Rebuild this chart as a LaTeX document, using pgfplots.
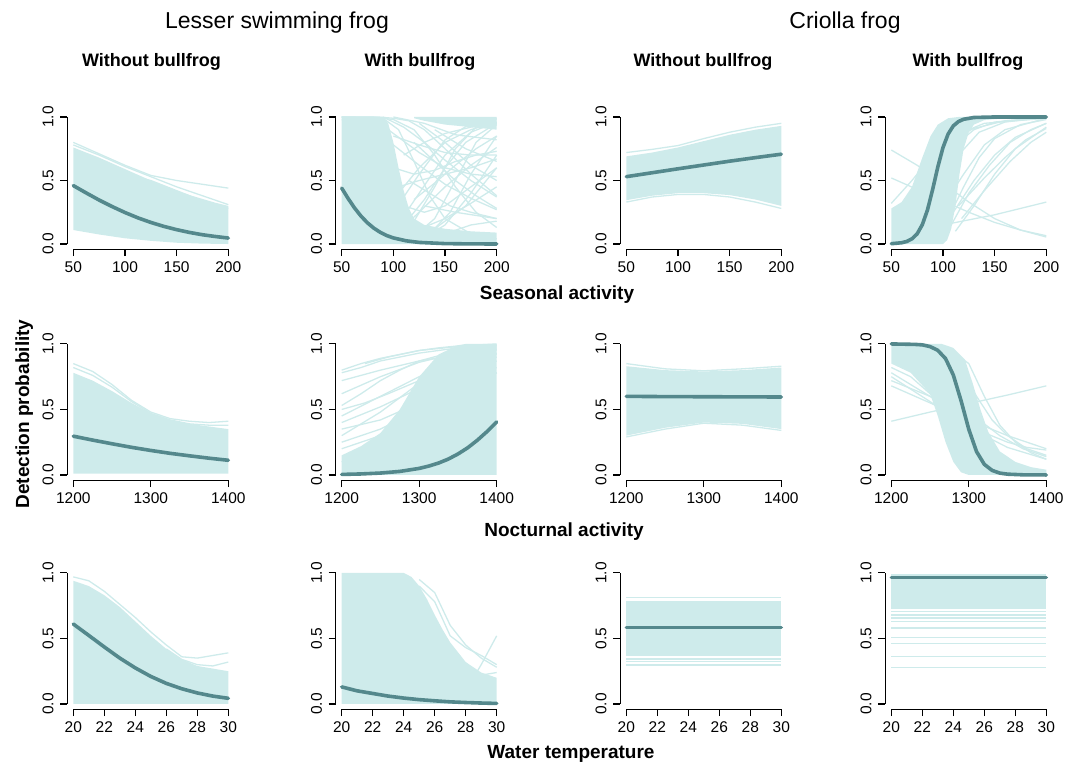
\documentclass[border=0pt]{standalone}
\usepackage{fontspec}
\setmainfont{Liberation Sans}
\usepackage{pgfplots}
\pgfplotsset{compat=1.18}
\definecolor{lite}{RGB}{206,235,235}
\definecolor{mcol}{RGB}{84,136,140}

\pgfplotsset{
  panel/.style={
    scale only axis, width=167.4pt, anchor=south west,
    ymin=-0.04, ymax=1.04, ytick={0,0.5,1}, yticklabels={0.0,0.5,1.0},
    axis x line*=bottom, axis y line*=left, axis line style={draw=none},
    tick align=outside, major tick length=7pt,
    tick style={black, line width=1.1pt},
    tick label style={font=\fontsize{15.5}{16}\selectfont},
    yticklabel style={rotate=90, anchor=south},
    yticklabel shift=3pt, xticklabel shift=2pt,
    clip=false,
  },
  r1/.style={height=137.2pt},
  r23/.style={height=141.5pt},
  sea/.style={xmin=44, xmax=206, xtick={50,100,150,200}, xticklabels={50,100,150,200}},
  noc/.style={xmin=1192, xmax=1408, xtick={1200,1300,1400}, xticklabels={1200,1300,1400}},
  wat/.style={xmin=19.6, xmax=30.4, xtick={20,22,24,26,28,30}, xticklabels={20,22,24,26,28,30}},
  env/.style={fill=lite, draw=none},
  ln/.style={lite, line width=1.3pt},
  mn/.style={mcol, line width=3.6pt, line cap=round},
}
\tikzset{axl/.style={black, line width=1.1pt}}
\newcommand{\axl}{%
  \draw[axl] (rel axis cs:0.037037,0) -- (rel axis cs:0.962963,0);
  \draw[axl] (rel axis cs:0,0.037037) -- (rel axis cs:0,0.962963);}

\begin{document}
\begin{tikzpicture}
\path[use as bounding box] (0,0) rectangle (1087pt,771pt);

% titles
\node[anchor=base, font=\fontsize{23}{23}\selectfont] at (277pt,742pt) {Lesser swimming frog};
\node[anchor=base, font=\fontsize{23}{23}\selectfont] at (845pt,742pt) {Criolla frog};
\foreach \xx/\tt in {151.5/Without bullfrog, 420/With bullfrog, 703/Without bullfrog, 968/With bullfrog}
  \node[anchor=base, font=\fontsize{18}{18}\selectfont\bfseries] at (\xx pt,704pt) {\tt};
\node[anchor=base, font=\fontsize{19}{19}\selectfont\bfseries] at (557pt,471pt) {Seasonal activity};
\node[anchor=base, font=\fontsize{19}{19}\selectfont\bfseries] at (564pt,234pt) {Nocturnal activity};
\node[anchor=base, font=\fontsize{19}{19}\selectfont\bfseries] at (571pt,12pt) {Water temperature};
\node[anchor=base, rotate=90, font=\fontsize{19}{19}\selectfont\bfseries] at (29pt,357pt) {Detection probability};

% ---------- row 1: seasonal activity ----------
\begin{axis}[panel, r1, sea, at={(67.1pt,521.9pt)}]
\addplot[env] coordinates {(50,0.76)(62.5,0.72)(75,0.68)(87.5,0.635)(100,0.59)(112.5,0.545)(125,0.50)(137.5,0.46)(150,0.42)(162.5,0.385)(175,0.355)(187.5,0.325)(200,0.30)
  (200,0.0)(175,0.003)(150,0.01)(125,0.025)(100,0.045)(75,0.075)(50,0.11)} -- cycle;
\addplot[ln] coordinates {(50,0.80)(75,0.71)(100,0.62)(125,0.54)(150,0.50)(175,0.47)(200,0.44)};
\addplot[ln] coordinates {(50,0.78)(75,0.70)(100,0.61)(125,0.53)(150,0.45)(175,0.38)(200,0.31)};
\addplot[ln] coordinates {(100,0.55)(125,0.50)(150,0.42)(175,0.34)(200,0.28)};
\addplot[mn] coordinates {(50,0.46)(62.5,0.402)(75,0.346)(87.5,0.295)(100,0.248)(112.5,0.206)(125,0.170)(137.5,0.139)(150,0.113)(162.5,0.091)(175,0.073)(187.5,0.059)(200,0.047)};
\axl
\end{axis}

\begin{axis}[panel, r1, sea, at={(335.5pt,521.9pt)}]
\addplot[env] coordinates {(50,1)(90,1)(95,0.95)(100,0.8)(105,0.6)(110,0.42)(115,0.28)(120,0.2)(130,0.15)(150,0.12)(175,0.1)(200,0.09)(200,0)(50,0)} -- cycle;
\addplot[env] coordinates {(120,1)(200,1)(200,0.9)(175,0.92)(150,0.94)(130,0.97)(120,0.99)} -- cycle;
\addplot[ln] coordinates {(50,1)(80,1)(100,0.98)(120,0.9)(140,0.7)(160,0.45)(180,0.25)(200,0.13)};
\addplot[ln] coordinates {(50,1)(90,0.99)(105,0.9)(120,0.65)(135,0.38)(150,0.2)(175,0.08)(200,0.04)};
\addplot[ln] coordinates {(50,0.98)(75,0.9)(100,0.78)(125,0.62)(150,0.47)(175,0.36)(200,0.27)};
\addplot[ln] coordinates {(90,1)(110,0.92)(130,0.8)(150,0.66)(175,0.5)(200,0.37)};
\addplot[ln] coordinates {(100,0.85)(125,0.78)(150,0.72)(175,0.7)(200,0.7)};
\addplot[ln] coordinates {(95,0.9)(125,0.72)(150,0.6)(175,0.55)(200,0.53)};
\addplot[ln] coordinates {(100,0.02)(120,0.06)(140,0.2)(160,0.5)(180,0.8)(200,0.94)};
\addplot[ln] coordinates {(100,0.05)(120,0.18)(140,0.45)(160,0.75)(180,0.92)(200,0.98)};
\addplot[ln] coordinates {(105,0.1)(125,0.25)(150,0.45)(175,0.62)(200,0.76)};
\addplot[ln] coordinates {(110,0.15)(130,0.35)(150,0.6)(170,0.8)(200,0.95)};
\addplot[ln] coordinates {(100,0.25)(125,0.55)(150,0.82)(175,0.95)(200,0.99)};
\addplot[ln] coordinates {(110,0.05)(140,0.12)(170,0.3)(200,0.6)};
\addplot[ln] coordinates {(120,0.1)(150,0.2)(175,0.32)(200,0.45)};
\addplot[ln] coordinates {(100,0.35)(125,0.6)(150,0.8)(175,0.9)(200,0.96)};
\addplot[ln] coordinates {(100,1)(130,0.95)(160,0.86)(200,0.82)};
\addplot[ln] coordinates {(120,0.05)(150,0.08)(175,0.15)(200,0.18)};
\addplot[ln] coordinates {(130,0.3)(160,0.25)(200,0.2)};
\addplot[ln] coordinates {(50,1)(85,1)(100,0.99)(115,0.97)(130,0.9)(150,0.75)(175,0.55)(200,0.38)};
\addplot[ln] coordinates {(100,0.6)(120,0.55)(140,0.58)(160,0.65)(180,0.7)(200,0.73)};
\addplot[ln] coordinates {(105,0.45)(125,0.5)(150,0.55)(175,0.6)(200,0.67)};
\addplot[ln] coordinates {(110,0.3)(130,0.25)(150,0.3)(175,0.45)(200,0.6)};
\addplot[ln] coordinates {(115,0.5)(135,0.4)(155,0.3)(175,0.25)(200,0.2)};
\addplot[ln] coordinates {(120,0.8)(140,0.65)(160,0.5)(180,0.38)(200,0.28)};
\addplot[ln] coordinates {(100,0.1)(125,0.4)(150,0.7)(175,0.88)(200,0.96)};
\addplot[ln] coordinates {(115,0.02)(135,0.08)(155,0.25)(175,0.55)(200,0.85)};
\addplot[ln] coordinates {(110,0.7)(130,0.8)(150,0.87)(175,0.92)(200,0.95)};
\addplot[ln] coordinates {(120,0.35)(140,0.48)(160,0.62)(180,0.75)(200,0.85)};
\addplot[ln] coordinates {(130,0.05)(150,0.15)(175,0.4)(200,0.7)};
\addplot[ln] coordinates {(125,0.95)(150,0.8)(175,0.62)(200,0.5)};
\addplot[ln] coordinates {(140,0.9)(170,0.75)(200,0.65)};
\addplot[mn] coordinates {(50,0.44)(56.25,0.358)(62.5,0.283)(68.75,0.219)(75,0.166)(81.25,0.124)(87.5,0.091)(93.75,0.066)(100,0.048)(112.5,0.025)(125,0.0125)(150,0.0032)(175,0.0008)(200,0.0002)};
\axl
\end{axis}

\begin{axis}[panel, r1, sea, at={(620.1pt,521.9pt)}]
\addplot[env] coordinates {(50,0.69)(75,0.72)(100,0.76)(125,0.81)(150,0.86)(175,0.90)(200,0.93)
  (200,0.30)(175,0.35)(150,0.385)(125,0.40)(100,0.40)(75,0.38)(50,0.345)} -- cycle;
\addplot[ln] coordinates {(50,0.72)(75,0.745)(100,0.775)(125,0.83)(150,0.88)(175,0.92)(200,0.95)};
\addplot[ln] coordinates {(50,0.33)(75,0.37)(100,0.39)(125,0.39)(150,0.37)(175,0.33)(200,0.28)};
\addplot[mn] coordinates {(50,0.53)(75,0.561)(100,0.592)(125,0.622)(150,0.652)(175,0.680)(200,0.707)};
\axl
\end{axis}

\begin{axis}[panel, r1, sea, at={(885.1pt,521.9pt)}]
\addplot[env] coordinates {(50,0)(50,0.28)(60,0.33)(70,0.45)(80,0.68)(88,0.85)(95,0.94)(105,0.99)(115,1)(200,1)
  (200,0.995)(160,0.99)(140,0.975)(130,0.94)(125,0.88)(120,0.75)(116,0.55)(112,0.3)(108,0.12)(104,0.03)(100,0)} -- cycle;
\addplot[ln] coordinates {(50,0.74)(75,0.62)(100,0.48)(125,0.33)(150,0.2)(175,0.11)(200,0.055)};
\addplot[ln] coordinates {(50,0.52)(75,0.43)(100,0.34)(125,0.25)(150,0.17)(175,0.11)(200,0.065)};
\addplot[ln] coordinates {(80,0.12)(100,0.15)(125,0.19)(150,0.23)(175,0.28)(200,0.33)};
\addplot[ln] coordinates {(105,0.2)(120,0.45)(135,0.68)(150,0.83)(175,0.94)(200,0.98)};
\addplot[ln] coordinates {(108,0.15)(125,0.4)(145,0.62)(165,0.8)(185,0.9)(200,0.95)};
\addplot[ln] coordinates {(110,0.25)(130,0.5)(150,0.7)(170,0.84)(200,0.95)};
\addplot[ln] coordinates {(100,0.3)(120,0.55)(140,0.78)(160,0.9)(200,0.99)};
\addplot[ln] coordinates {(115,0.3)(140,0.52)(160,0.68)(180,0.82)(200,0.91)};
\addplot[ln] coordinates {(95,0.45)(115,0.7)(135,0.88)(160,0.96)(200,1)};
\addplot[ln] coordinates {(50,0.32)(70,0.5)(90,0.7)(110,0.83)(130,0.91)(160,0.97)(200,0.99)};
\addplot[ln] coordinates {(112,0.1)(130,0.3)(150,0.55)(170,0.75)(200,0.92)};
\addplot[ln] coordinates {(118,0.2)(140,0.42)(165,0.65)(185,0.8)(200,0.88)};
\addplot[ln] coordinates {(100,0.6)(115,0.8)(130,0.9)(150,0.96)(200,1)};
\addplot[ln] coordinates {(55,0.2)(75,0.42)(95,0.7)(110,0.85)(140,0.95)(200,0.99)};
\addplot[mn] coordinates {(50,0.0024)(60,0.010)(65,0.020)(70,0.041)(75,0.080)(80,0.152)(85,0.268)(90,0.429)(95,0.606)(100,0.759)(105,0.866)(110,0.930)(115,0.964)(120,0.982)(130,0.996)(150,1.0)(200,1.0)};
\axl
\end{axis}

% ---------- row 2: nocturnal activity ----------
\begin{axis}[panel, r23, noc, at={(67.1pt,290.8pt)}]
\addplot[env] coordinates {(1200,0.78)(1225,0.72)(1250,0.64)(1275,0.55)(1300,0.47)(1325,0.42)(1350,0.39)(1375,0.37)(1400,0.35)(1400,0.01)(1200,0.01)} -- cycle;
\addplot[ln] coordinates {(1200,0.85)(1225,0.79)(1250,0.69)(1275,0.57)(1300,0.48)(1325,0.43)(1350,0.41)(1375,0.40)(1400,0.41)};
\addplot[ln] coordinates {(1200,0.82)(1225,0.76)(1250,0.67)(1275,0.56)(1300,0.47)(1325,0.42)(1350,0.39)(1375,0.38)(1400,0.38)};
\addplot[mn] coordinates {(1200,0.296)(1225,0.266)(1250,0.238)(1275,0.211)(1300,0.187)(1325,0.165)(1350,0.146)(1375,0.128)(1400,0.112)};
\axl
\end{axis}

\begin{axis}[panel, r23, noc, at={(335.5pt,290.8pt)}]
\addplot[env] coordinates {(1200,0)(1200,0.15)(1225,0.22)(1250,0.32)(1275,0.5)(1300,0.75)(1325,0.92)(1350,0.99)(1360,1)(1400,1)(1400,0)} -- cycle;
\addplot[ln] coordinates {(1200,0.8)(1225,0.85)(1250,0.89)(1275,0.92)(1300,0.95)(1325,0.97)(1350,0.985)(1400,1.0)};
\addplot[ln] coordinates {(1200,0.78)(1225,0.82)(1250,0.87)(1300,0.93)(1350,0.97)(1400,0.99)};
\addplot[ln] coordinates {(1200,0.72)(1250,0.8)(1300,0.87)(1350,0.92)(1400,0.95)};
\addplot[ln] coordinates {(1200,0.53)(1225,0.62)(1250,0.72)(1275,0.8)(1300,0.87)(1350,0.95)(1400,0.98)};
\addplot[ln] coordinates {(1200,0.45)(1250,0.6)(1300,0.75)(1350,0.87)(1400,0.93)};
\addplot[ln] coordinates {(1200,0.4)(1250,0.52)(1300,0.66)(1350,0.78)(1400,0.87)};
\addplot[ln] coordinates {(1200,0.3)(1250,0.48)(1300,0.7)(1350,0.88)(1400,0.96)};
\addplot[ln] coordinates {(1200,0.25)(1250,0.35)(1300,0.5)(1350,0.65)(1400,0.78)};
\addplot[ln] coordinates {(1200,0.62)(1250,0.75)(1300,0.86)(1350,0.93)(1400,0.97)};
\addplot[ln] coordinates {(1200,0.35)(1250,0.42)(1300,0.55)(1350,0.7)(1400,0.82)};
\addplot[ln] coordinates {(1200,0.2)(1250,0.3)(1280,0.45)(1320,0.7)(1360,0.85)(1400,0.92)};
\addplot[ln] coordinates {(1200,0.5)(1230,0.55)(1260,0.62)(1300,0.72)(1350,0.82)(1400,0.9)};
\addplot[ln] coordinates {(1230,0.85)(1260,0.9)(1300,0.95)(1350,0.98)(1400,0.99)};
\addplot[ln] coordinates {(1200,0.1)(1250,0.2)(1300,0.38)(1350,0.6)(1400,0.78)};
\addplot[mn] coordinates {(1200,0.004)(1225,0.0077)(1250,0.0145)(1275,0.027)(1300,0.050)(1312.5,0.068)(1325,0.091)(1337.5,0.121)(1350,0.160)(1362.5,0.207)(1375,0.265)(1387.5,0.331)(1400,0.405)};
\axl
\end{axis}

\begin{axis}[panel, r23, noc, at={(620.1pt,290.8pt)}]
\addplot[env] coordinates {(1200,0.83)(1250,0.80)(1300,0.79)(1350,0.80)(1400,0.82)(1400,0.35)(1350,0.39)(1300,0.40)(1250,0.36)(1200,0.30)} -- cycle;
\addplot[ln] coordinates {(1200,0.85)(1250,0.81)(1300,0.795)(1350,0.81)(1400,0.83)};
\addplot[ln] coordinates {(1200,0.29)(1250,0.35)(1300,0.395)(1350,0.38)(1400,0.34)};
\addplot[mn] coordinates {(1200,0.600)(1250,0.598)(1300,0.597)(1350,0.596)(1400,0.595)};
\axl
\end{axis}

\begin{axis}[panel, r23, noc, at={(885.1pt,290.8pt)}]
\addplot[env] coordinates {(1200,1)(1265,1)(1280,0.97)(1295,0.88)(1305,0.7)(1315,0.5)(1325,0.33)(1340,0.18)(1360,0.1)(1380,0.06)(1400,0.04)
  (1400,0)(1300,0)(1290,0.02)(1280,0.1)(1270,0.25)(1260,0.45)(1250,0.62)(1225,0.78)(1200,0.85)} -- cycle;
\addplot[ln] coordinates {(1200,0.82)(1225,0.75)(1250,0.62)(1275,0.45)(1300,0.28)(1325,0.14)(1350,0.06)(1400,0.01)};
\addplot[ln] coordinates {(1200,0.78)(1250,0.6)(1275,0.5)(1300,0.4)(1325,0.31)(1350,0.25)(1375,0.21)(1400,0.19)};
\addplot[ln] coordinates {(1200,0.75)(1250,0.56)(1300,0.36)(1350,0.21)(1400,0.12)};
\addplot[ln] coordinates {(1200,0.68)(1250,0.55)(1300,0.42)(1350,0.3)(1400,0.2)};
\addplot[ln] coordinates {(1200,0.72)(1250,0.6)(1300,0.48)(1340,0.3)(1370,0.2)(1400,0.14)};
\addplot[ln] coordinates {(1250,0.97)(1290,0.8)(1310,0.6)(1330,0.42)(1350,0.3)(1375,0.2)(1400,0.15)};
\addplot[ln] coordinates {(1270,0.98)(1300,0.85)(1320,0.6)(1340,0.38)(1360,0.25)(1380,0.17)(1400,0.12)};
\addplot[ln] coordinates {(1200,0.41)(1250,0.48)(1300,0.545)(1350,0.61)(1400,0.68)};
\addplot[mn] coordinates {(1200,1.0)(1230,0.9966)(1240,0.993)(1250,0.980)(1260,0.951)(1270,0.888)(1280,0.763)(1290,0.567)(1300,0.348)(1310,0.178)(1320,0.081)(1330,0.035)(1340,0.014)(1350,0.006)(1370,0.001)(1400,0.0)};
\axl
\end{axis}

% ---------- row 3: water temperature ----------
\begin{axis}[panel, r23, wat, at={(67.1pt,61.8pt)}]
\addplot[env] coordinates {(20,0.94)(21,0.90)(22,0.83)(23,0.74)(24,0.63)(25,0.52)(26,0.42)(27,0.34)(28,0.29)(29,0.27)(30,0.25)(30,0)(20,0)} -- cycle;
\addplot[ln] coordinates {(20,0.97)(21,0.94)(22,0.86)(23,0.76)(24,0.66)(25,0.55)(26,0.45)(27,0.36)(28,0.35)(29,0.37)(30,0.39)};
\addplot[ln] coordinates {(26,0.42)(27,0.34)(28,0.30)(29,0.29)(30,0.32)};
\addplot[mn] coordinates {(20,0.61)(21,0.523)(22,0.435)(23,0.350)(24,0.275)(25,0.210)(26,0.157)(27,0.116)(28,0.084)(29,0.060)(30,0.043)};
\axl
\end{axis}

\begin{axis}[panel, r23, wat, at={(335.5pt,61.8pt)}]
\addplot[env] coordinates {(20,0)(20,1)(24,1)(24.5,0.97)(25,0.9)(25.5,0.8)(26,0.68)(26.5,0.57)(27,0.47)(28,0.32)(29,0.24)(30,0.2)(30,0)} -- cycle;
\addplot[ln] coordinates {(25,0.9)(26,0.78)(27,0.52)(28,0.43)(29,0.37)(30,0.3)};
\addplot[ln] coordinates {(27,0.25)(28,0.15)(28.5,0.2)(29,0.3)(29.5,0.41)(30,0.52)};
\addplot[ln] coordinates {(26,0.5)(27,0.35)(28,0.25)(29,0.22)(30,0.24)};
\addplot[ln] coordinates {(25,0.95)(26,0.85)(27,0.6)(28,0.45)(29,0.35)(30,0.28)};
\addplot[mn] coordinates {(20,0.13)(21,0.10)(22,0.08)(23,0.06)(24,0.045)(25,0.033)(26,0.024)(27,0.016)(28,0.011)(29,0.007)(30,0.004)};
\axl
\end{axis}

\begin{axis}[panel, r23, wat, at={(620.1pt,61.8pt)}]
\addplot[env] coordinates {(20,0.783)(30,0.783)(30,0.365)(20,0.365)} -- cycle;
\addplot[ln] coordinates {(20,0.81)(30,0.81)};
\addplot[ln] coordinates {(20,0.344)(30,0.344)};
\addplot[ln] coordinates {(20,0.324)(30,0.324)};
\addplot[ln] coordinates {(20,0.298)(30,0.298)};
\addplot[mn] coordinates {(20,0.584)(30,0.584)};
\axl
\end{axis}

\begin{axis}[panel, r23, wat, at={(885.1pt,61.8pt)}]
\addplot[env] coordinates {(20,0.99)(30,0.99)(30,0.727)(20,0.727)} -- cycle;
\addplot[ln] coordinates {(20,0.707)(30,0.707)};
\addplot[ln] coordinates {(20,0.68)(30,0.68)};
\addplot[ln] coordinates {(20,0.656)(30,0.656)};
\addplot[ln] coordinates {(20,0.63)(30,0.63)};
\addplot[ln] coordinates {(20,0.58)(30,0.58)};
\addplot[ln] coordinates {(20,0.508)(30,0.508)};
\addplot[ln] coordinates {(20,0.459)(30,0.459)};
\addplot[ln] coordinates {(20,0.36)(30,0.36)};
\addplot[ln] coordinates {(20,0.28)(30,0.28)};
\addplot[mn] coordinates {(20,0.966)(30,0.966)};
\axl
\end{axis}
\end{tikzpicture}
\end{document}
